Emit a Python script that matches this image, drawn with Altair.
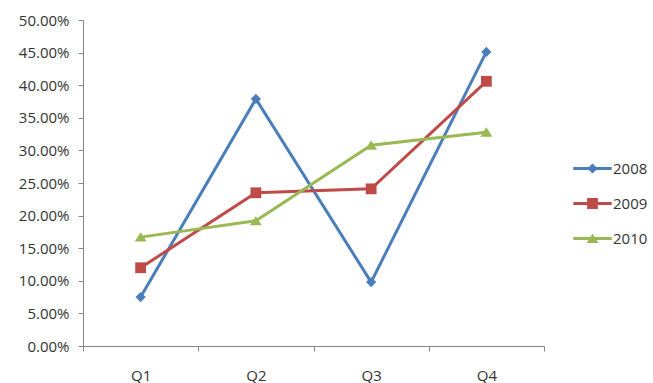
import altair as alt
import pandas as pd

quarters = ["Q1", "Q2", "Q3", "Q4"]
years = ["2008", "2009", "2010"]
v2008 = [0.075, 0.379, 0.098, 0.451]
v2009 = [0.120, 0.235, 0.241, 0.406]
v2010 = [0.167, 0.192, 0.308, 0.328]
colors = ["#4A7EBB", "#BE4B48", "#98B954"]
y_ticks = [0, 0.05, 0.10, 0.15, 0.20, 0.25, 0.30, 0.35, 0.40, 0.45, 0.50]

rows = []
for yr, vals in zip(years, [v2008, v2009, v2010]):
    for q, v in zip(quarters, vals):
        rows.append({"quarter": q, "year": yr, "value": v})
df = pd.DataFrame(rows)

# marker shapes in unit coords
diamond = "M0,-0.85L0.85,0L0,0.85L-0.85,0Z"
square = "M-0.9,-0.9L0.9,-0.9L0.9,0.9L-0.9,0.9Z"
triangle = "M0,-0.8L1,0.75L-1,0.75Z"
bar = "M-3.2,-0.25L3.2,-0.25L3.2,0.25L-3.2,0.25Z "
shapes = [diamond, square, triangle]
legend_shapes = [bar + s for s in shapes]

FONT = "Open Sans"
FS = 15
x_enc = alt.X("quarter:N", sort=quarters, bandPosition=0.5,
              scale=alt.Scale(type="band", paddingInner=0, paddingOuter=0),
              axis=alt.Axis(title=None, labelAngle=0, tickBand="extent", grid=False,
                            domainColor="#868686", tickColor="#868686", tickSize=5,
                            labelPadding=17, labelFont=FONT, labelFontSize=FS,
                            labelColor="#333333"))
y_enc = alt.Y("value:Q",
              scale=alt.Scale(domain=[0, 0.5], nice=False, zero=True),
              axis=alt.Axis(title=None, values=y_ticks, format=".2%", grid=False,
                            domainColor="#868686", tickColor="#868686", tickSize=5,
                            labelPadding=9, labelFont=FONT, labelFontSize=FS,
                            labelColor="#333333"))
color_scale = alt.Scale(domain=years, range=colors)

legend_kw = dict(title=None, orient="none", legendX=502, legendY=141,
                 symbolSize=144, symbolStrokeWidth=0, symbolOpacity=1,
                 labelFont=FONT, labelFontSize=FS, labelColor="#333333",
                 labelOffset=13, rowPadding=19)

legend_layer = alt.Chart(df).mark_point(filled=True, opacity=0, size=144).encode(
    x=x_enc, y=y_enc,
    color=alt.Color("year:N", scale=color_scale, legend=alt.Legend(**legend_kw)),
    shape=alt.Shape("year:N", scale=alt.Scale(domain=years, range=legend_shapes),
                    legend=alt.Legend(**legend_kw)),
)

lines = alt.Chart(df).mark_line(strokeWidth=3).encode(
    x=x_enc, y=y_enc,
    color=alt.Color("year:N", scale=color_scale, legend=None),
    detail="year:N",
)

point_layers = []
for yr, shp in zip(years, shapes):
    point_layers.append(
        alt.Chart(df).transform_filter(alt.datum.year == yr)
        .mark_point(filled=True, opacity=1, size=144, shape=shp)
        .encode(x=x_enc, y=y_enc,
                color=alt.Color("year:N", scale=color_scale, legend=None))
    )

chart = alt.layer(legend_layer, lines, *point_layers).properties(
    width=461, height=326,
    autosize=alt.AutoSizeParams(type="none"),
    padding={"left": 83, "top": 20, "right": 109, "bottom": 37},
    background="white",
).configure_view(stroke=None)

chart.save("out.html", embed_options={"renderer": "svg", "actions": False})
